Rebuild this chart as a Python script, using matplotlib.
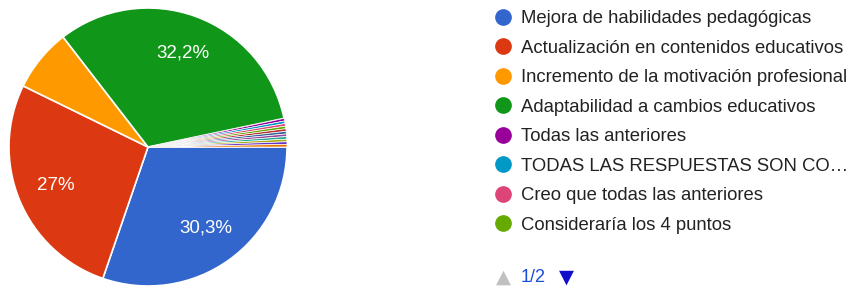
import matplotlib
matplotlib.use("Agg")
import matplotlib.pyplot as plt
from matplotlib.lines import Line2D

plt.rcParams['font.family'] = ['Liberation Sans', 'DejaVu Sans']

# data: percentages (11 tiny slices of ~0.3% each)
labels = ["Mejora de habilidades pedagógicas",
          "Actualización en contenidos educativos",
          "Incremento de la motivación profesional",
          "Adaptabilidad a cambios educativos",
          "Todas las anteriores",
          "TODAS LAS RESPUESTAS SON CO…",
          "Creo que todas las anteriores",
          "Consideraría los 4 puntos",
          "otro 1", "otro 2", "otro 3", "otro 4", "otro 5", "otro 6", "otro 7"]
values = [30.3, 27.0, 7.3, 32.2, 0.3, 0.3, 0.3, 0.3, 0.3, 0.3, 0.3, 0.3, 0.3, 0.3, 0.3]
colors = ["#3366cc", "#dc3912", "#ff9900", "#109618", "#990099", "#0099c6",
          "#dd4477", "#66aa00", "#b82e2e", "#316395", "#994499", "#22aa99",
          "#aaaa11", "#6633cc", "#e67300"]
n_legend = 8
page_text = "1/2"

fig = plt.figure(figsize=(8.57, 2.89), dpi=100)

W, H = 857, 289
cx, cy, r = 148, 147, 139
ax = fig.add_axes([(cx - r) / W, (H - cy - r) / H, 2 * r / W, 2 * r / H])


def fmt(p):
    if p < 10:
        return ""
    s = "%.1f" % p
    if s.endswith(".0"):
        s = s[:-2]
    return s.replace(".", ",") + "%"


wedges, texts, autotexts = ax.pie(values, colors=colors, startangle=0,
                                  counterclock=False, autopct=fmt,
                                  pctdistance=0.72,
                                  wedgeprops=dict(edgecolor="white", linewidth=1.2))
for w, v in zip(wedges, values):
    if v < 1:
        w.set_linewidth(0.5)
for t in autotexts:
    t.set_color("white")
    t.set_fontsize(13.5)
ax.set_xlim(-1, 1)
ax.set_ylim(-1, 1)
ax.set_aspect("equal")
ax.axis("off")

handles = [Line2D([], [], marker="o", linestyle="none", markersize=11,
                  markerfacecolor=c, markeredgecolor=c) for c in colors[:n_legend]]
fig.legend(handles, labels[:n_legend], loc="upper left",
           bbox_to_anchor=(494 / W, 1 - 10 / H), frameon=False,
           borderpad=0, borderaxespad=0,
           fontsize=13.3, labelspacing=0.68, handletextpad=0.46,
           handlelength=1.0, labelcolor="#222222")

# pager
fig.text(503 / W, 1 - 277 / H, "▲", color="#c0c0c0", fontsize=14,
         ha="center", va="center", family="DejaVu Sans")
fig.text(521 / W, 1 - 277 / H, page_text, color="#1a4fd6", fontsize=13,
         ha="left", va="center")
fig.text(566 / W, 1 - 277 / H, "▼", color="#1010cc", fontsize=14,
         ha="center", va="center", family="DejaVu Sans")

fig.savefig("out.png", dpi=100)
